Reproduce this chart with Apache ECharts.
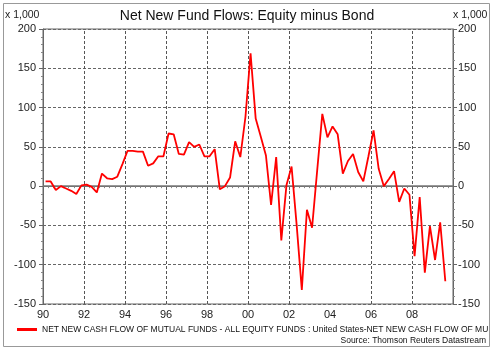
<!DOCTYPE html>
<html>
<head>
<meta charset="utf-8">
<script src="https://cdn.jsdelivr.net/npm/echarts@6/dist/echarts.min.js"></script>
<style>
html, body { margin: 0; padding: 0; background: #fff; }
#chart { width: 494px; height: 351px; }
</style>
</head>
<body>
<div id="chart"></div>
<script>
/* quarterly net flows, equity minus bond (x 1,000), 1990 Q1 .. 2009 Q3 */
var startYear = 1990;
var flowValues = [
	6, 6, -5, 0, -3, -6, -10, 1,
	2, -1, -8, 16, 10, 9, 12, 28,
	45, 45, 44, 44, 26, 29, 38, 38,
	67, 66, 41, 40, 56, 50, 53, 38,
	38, 47, -4, 0, 11, 57, 37, 88,
	169, 86, 63, 39, -24, 37, -69, 1,
	25, -50, -132, -30, -53, 20, 92, 62,
	76, 66, 16, 32, 41, 18, 6, 38,
	71, 22, 0, 9, 19, -20, -3, -11,
	-89, -14, -110, -51, -94, -46, -121
];
var gridYears = [1992, 1994, 1996, 1998, 2000, 2002, 2006, 2008];//no line at 04 in the original
var seriesName = 'NET NEW CASH FLOW OF MUTUAL FUNDS - ALL EQUITY FUNDS : United States-NET NEW CASH FLOW OF MUTUAL FUNDS - ALL BOND FUNDS : United States';

/*quarter labels and their position on the year axis (mid quarter)*/
var quarters = [];
var quarterPos = [];
for (var i = 0; i < flowValues.length; i++) {
	quarters.push((startYear + Math.floor(i / 4)) + ' Q' + (i % 4 + 1));
	quarterPos.push(startYear + (i + 0.5) / 4);
}

var font = 'Liberation Sans, Arial, sans-serif';
var chart = echarts.init(document.getElementById('chart'));

var yAxisBase = function (pos) {
	return {
		type: 'value',
		position: pos,
		min: -150,
		max: 200,
		interval: 50,
		axisLine: { show: true, lineStyle: { color: '#666' } },
		axisTick: { show: true, length: 4, lineStyle: { color: '#666' } },
		minorTick: { show: true, splitNumber: 5, length: 2, lineStyle: { color: '#888' } },
		axisLabel: { color: '#222', fontSize: 11, fontFamily: font, margin: pos === 'left' ? 7 : 5 },
		splitLine: { show: pos === 'left', lineStyle: { color: '#666', type: [3, 2], width: 1 } }
	};
};

var markData = gridYears.map(function (y) { return { xAxis: y }; });
markData.push({ yAxis: 0, lineStyle: { type: 'solid', color: '#777', width: 1.6 } });

chart.setOption({
	animation: false,
	backgroundColor: '#fff',
	title: {
		text: 'Net New Fund Flows: Equity minus Bond',
		left: 'center',
		top: 4,
		textStyle: { fontSize: 14, fontWeight: 'normal', color: '#111', fontFamily: font }
	},
	grid: {
		left: 43, right: 41, top: 29, bottom: 47,
		show: true, borderColor: '#666', borderWidth: 1,
		outerBoundsMode: 'none'
	},
	legend: {
		left: 12,
		top: 320,
		itemWidth: 20,
		itemHeight: 3,
		icon: 'rect',
		textStyle: { fontSize: 8.5, color: '#111', fontFamily: font, width: 451, overflow: 'truncate', ellipsis: '' },
		data: [seriesName]
	},
	xAxis: {
		type: 'value',
		min: startYear,
		max: 2010,
		interval: 2,
		axisLine: { show: true, lineStyle: { color: '#666' } },
		axisTick: { show: true, length: 4, lineStyle: { color: '#666' } },
		minorTick: { show: true, splitNumber: 8, length: 2, lineStyle: { color: '#888' } },
		axisLabel: {
			color: '#222', fontSize: 11, fontFamily: font, margin: 5,
			formatter: function (v) { return v === 2010 ? '' : String(v).slice(2); }
		},
		splitLine: { show: false }
	},
	yAxis: [yAxisBase('left'), yAxisBase('right')],
	series: [{
		name: seriesName,
		type: 'line',
		z: 3,
		showSymbol: false,
		lineStyle: { color: '#ff0000', width: 1.8 },
		itemStyle: { color: '#ff0000' },
		data: flowValues.map(function (v, i) { return [quarterPos[i], v]; }),
		markLine: {
			z: 1,
			silent: true,
			symbol: 'none',
			label: { show: false },
			lineStyle: { color: '#555', type: [3, 2], width: 1 },
			data: markData
		}
	}],
	graphic: [
		{ type: 'rect', z: -10, shape: { x: 3.5, y: 3.5, width: 486, height: 343 }, style: { fill: 'none', stroke: '#999', lineWidth: 1 } },
		{ type: 'text', left: 5, top: 10, style: { text: 'x 1,000', fontSize: 10.5, fill: '#222', fontFamily: font } },
		{ type: 'text', left: 453, top: 10, style: { text: 'x 1,000', fontSize: 10.5, fill: '#222', fontFamily: font } },
		{ type: 'text', right: 8, top: 336, style: { text: 'Source: Thomson Reuters Datastream', fontSize: 8.5, fill: '#111', fontFamily: font } }
	]
});
</script>
</body>
</html>
